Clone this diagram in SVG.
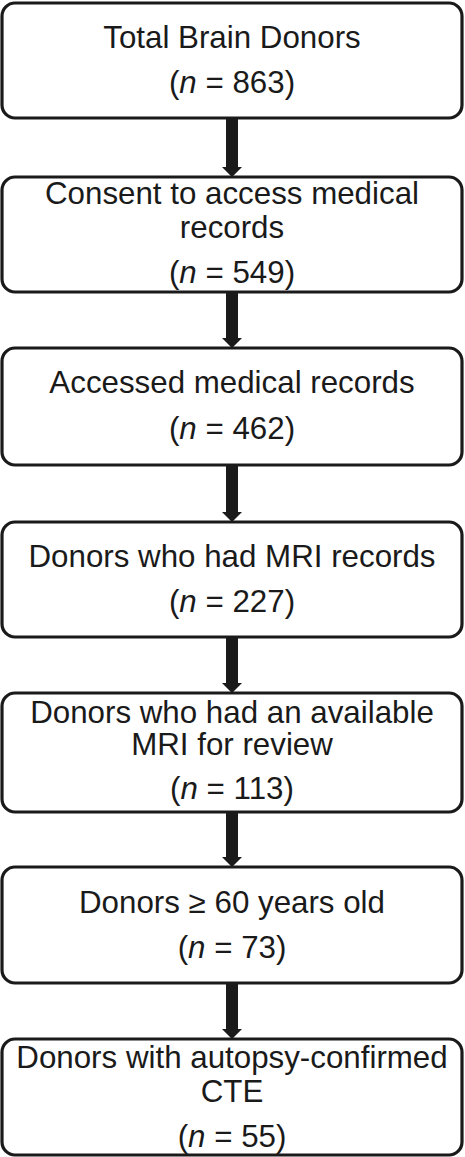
<svg xmlns="http://www.w3.org/2000/svg" width="465" height="1157" viewBox="0 0 465 1157">
<style>
.box{fill:#fff;stroke:#1a1a1a;stroke-width:3.2}
.t{font-family:"Liberation Sans",Arial,sans-serif;font-size:31.3px;fill:#1a1a1a;text-anchor:middle}
.i{font-style:italic}
.arr{fill:#1a1a1a}
</style>
<rect width="465" height="1157" fill="#fff"/>
<g id="connectors">
<polygon class="arr" points="226,118 238,118 238,167 242,167 232,177 222,167 226,167"/>
<polygon class="arr" points="226,292 238,292 238,338 242,338 232,348 222,338 226,338"/>
<polygon class="arr" points="226,465 238,465 238,512 242,512 232,522 222,512 226,512"/>
<polygon class="arr" points="226,637 238,637 238,683 242,683 232,693 222,683 226,683"/>
<polygon class="arr" points="226,812 238,812 238,857 242,857 232,867 222,857 226,857"/>
<polygon class="arr" points="226,983 238,983 238,1029 242,1029 232,1039 222,1029 226,1029"/>
</g>
<g id="n1">
<rect class="box" x="2" y="3" width="460" height="115" rx="13"/>
<text class="t" x="232" y="48">Total Brain Donors</text>
<text class="t" x="232" y="93">(<tspan class="i">n</tspan> = 863)</text>
</g>
<g id="n2">
<rect class="box" x="2" y="177" width="460" height="115" rx="13"/>
<text class="t" x="232" y="204">Consent to access medical</text>
<text class="t" x="232" y="238">records</text>
<text class="t" x="232" y="283">(<tspan class="i">n</tspan> = 549)</text>
</g>
<g id="n3">
<rect class="box" x="2" y="348" width="460" height="117" rx="13"/>
<text class="t" x="232" y="393">Accessed medical records</text>
<text class="t" x="232" y="439">(<tspan class="i">n</tspan> = 462)</text>
</g>
<g id="n4">
<rect class="box" x="2" y="522" width="460" height="115" rx="13"/>
<text class="t" x="232" y="567">Donors who had MRI records</text>
<text class="t" x="232" y="612">(<tspan class="i">n</tspan> = 227)</text>
</g>
<g id="n5">
<rect class="box" x="2" y="693" width="460" height="119" rx="13"/>
<text class="t" x="232" y="723">Donors who had an available</text>
<text class="t" x="232" y="755">MRI for review</text>
<text class="t" x="232" y="799">(<tspan class="i">n</tspan> = 113)</text>
</g>
<g id="n6">
<rect class="box" x="2" y="867" width="460" height="116" rx="13"/>
<text class="t" x="232" y="913">Donors ≥ 60 years old</text>
<text class="t" x="232" y="958">(<tspan class="i">n</tspan> = 73)</text>
</g>
<g id="n7">
<rect class="box" x="2" y="1039" width="460" height="116" rx="13"/>
<text class="t" x="232" y="1068">Donors with autopsy-confirmed</text>
<text class="t" x="232" y="1102">CTE</text>
<text class="t" x="232" y="1147">(<tspan class="i">n</tspan> = 55)</text>
</g>
</svg>
